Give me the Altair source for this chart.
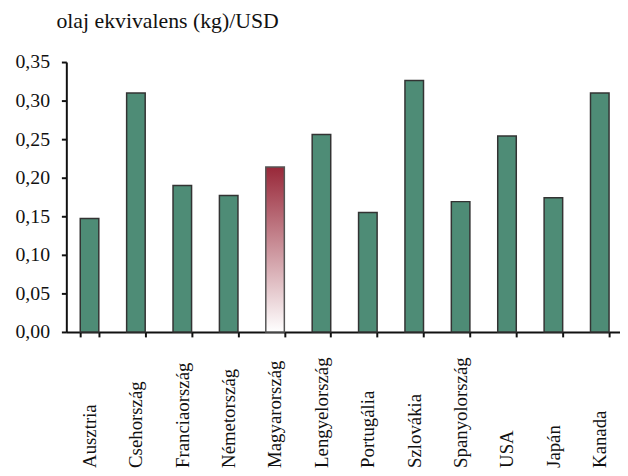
import altair as alt
import pandas as pd

countries = ["Ausztria", "Csehország", "Franciaország", "Németország", "Magyarország",
             "Lengyelország", "Portugália", "Szlovákia", "Spanyolország", "USA", "Japán", "Kanada"]
values = [0.147, 0.310, 0.190, 0.177, 0.214, 0.256, 0.155, 0.326, 0.169, 0.254, 0.174, 0.310]
highlight = "Magyarország"
y_ticks = [0, 0.05, 0.10, 0.15, 0.20, 0.25, 0.30, 0.35]

df = pd.DataFrame({"country": countries, "value": values})

FONT = "Liberation Serif"

x_enc = alt.X("country:N", sort=countries,
              scale=alt.Scale(paddingInner=0.6, paddingOuter=0.3),
              axis=alt.Axis(title=None, labelAngle=-90, labelAlign="left", labelBaseline="middle",
                            labelPadding=132, tickBand="extent", labelFontSize=19))
y_enc = alt.Y("value:Q", scale=alt.Scale(domain=[0, 0.35], nice=False),
              axis=alt.Axis(title=None, values=y_ticks, grid=False,
                            labelExpr="replace(format(datum.value, '.2f'), '.', ',')",
                            labelPadding=12, labelFontSize=20))

base = alt.Chart(df)
green = base.transform_filter(alt.datum.country != highlight).mark_bar(
    color="#4E8C76", stroke="#333", strokeWidth=1.5
).encode(x=x_enc, y=y_enc)

grad = base.transform_filter(alt.datum.country == highlight).mark_bar(
    color=alt.Gradient(gradient="linear", x1=0, y1=0, x2=0, y2=1,
                       stops=[alt.GradientStop(color="#982839", offset=0),
                              alt.GradientStop(color="#ffffff", offset=1)]),
    stroke="#555", strokeWidth=1.5
).encode(x=x_enc, y=y_enc)

chart = alt.layer(green, grad).properties(
    width=563, height=273,
    autosize=alt.AutoSizeParams(type="none"),
    padding={"left": 59, "top": 52, "right": -3, "bottom": 140},
    title=alt.TitleParams("olaj ekvivalens (kg)/USD", anchor="start", frame="group",
                          dx=-10, offset=19)
).configure_view(stroke=None).configure_axis(
    labelFont=FONT, labelColor="#111",
    tickSize=5, tickWidth=2, tickColor="#111",
    domainWidth=2, domainColor="#111"
).configure_title(
    font=FONT, fontSize=22, fontWeight="normal", color="#111"
)

chart.save("out.html", embed_options={"renderer": "svg", "actions": False})
